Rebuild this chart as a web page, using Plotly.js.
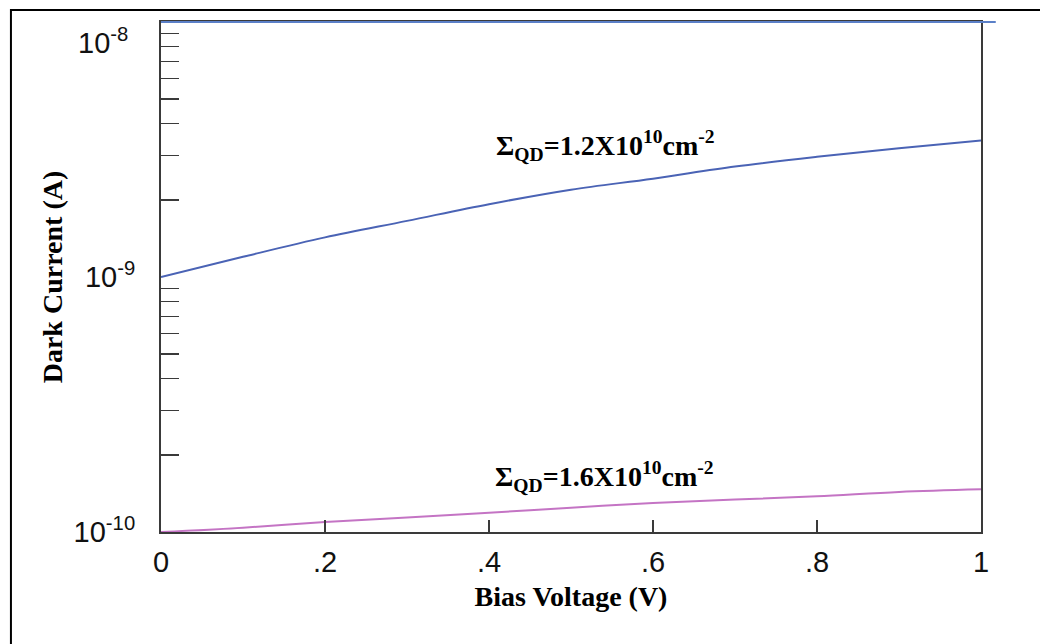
<!DOCTYPE html>
<html><head><meta charset="utf-8">
<script src="https://cdn.plot.ly/plotly-3.0.1.min.js"></script>
<style>html,body{margin:0;padding:0;background:#fff}</style>
</head><body>
<div id="chart" style="width:1040px;height:644px"></div>
<script>
const biasVoltage = [0, 0.1, 0.2, 0.3, 0.4, 0.5, 0.6, 0.7, 0.8, 0.9, 1.0];
const darkCurrentQD12 = [1.00e-9, 1.20e-9, 1.43e-9, 1.66e-9, 1.93e-9, 2.20e-9, 2.43e-9, 2.71e-9, 2.96e-9, 3.20e-9, 3.43e-9];
const darkCurrentQD16 = [1.00e-10, 1.04e-10, 1.095e-10, 1.14e-10, 1.19e-10, 1.245e-10, 1.30e-10, 1.34e-10, 1.38e-10, 1.435e-10, 1.47e-10];
const seriesLabels = ['Σ<sub>QD</sub>=1.2X10<sup>10</sup>cm<sup>-2</sup>', 'Σ<sub>QD</sub>=1.6X10<sup>10</sup>cm<sup>-2</sup>'];
const xTickVals = [0, 0.2, 0.4, 0.6, 0.8, 1];
const xTickText = ['0', '.2', '.4', '.6', '.8', '1'];
const yTickVals = [1e-10, 1e-9];
const yTickText = ['10<sup>-10</sup>', '10<sup>-9</sup>'];
const yTopLabel = '10<sup>-8</sup>';
const yMinorVals = [2e-10, 3e-10, 4e-10, 5e-10, 6e-10, 7e-10, 8e-10, 9e-10,
                    2e-9, 3e-9, 4e-9, 5e-9, 6e-9, 7e-9, 8e-9, 9e-9];

const serif = 'Liberation Serif, Times New Roman, serif';
const sans = 'Liberation Sans, Arial, sans-serif';

const traces = [
  {x: biasVoltage, y: darkCurrentQD12, mode: 'lines', line: {color: '#4a63b5', width: 2, shape: 'spline'}, hoverinfo: 'skip'},
  {x: biasVoltage, y: darkCurrentQD16, mode: 'lines', line: {color: '#c474c4', width: 2, shape: 'spline'}, hoverinfo: 'skip'}
];

const axisLine = '#3a3a3a';
const layout = {
  width: 1040, height: 644,
  margin: {l: 161, r: 59, t: 22, b: 112},
  paper_bgcolor: '#fff', plot_bgcolor: '#fff',
  showlegend: false,
  xaxis: {
    range: [0, 1], tickvals: xTickVals, ticktext: xTickText,
    ticks: 'inside', ticklen: 12, tickwidth: 1.5, tickcolor: axisLine,
    showline: true, linecolor: axisLine, linewidth: 2, mirror: true,
    showgrid: false, zeroline: false,
    tickfont: {family: sans, size: 29, color: '#111'},
    ticklabelstandoff: 3,
    title: {text: 'Bias Voltage (V)', font: {family: serif, size: 28, color: '#000', weight: 700}, standoff: 10}
  },
  yaxis: {
    type: 'log', range: [-10, -8], tickvals: yTickVals, ticktext: yTickText,
    ticks: '', ticklen: 0,
    showline: true, linecolor: axisLine, linewidth: 2, mirror: true,
    showgrid: false, zeroline: false,
    tickfont: {family: sans, size: 29, color: '#111'},
    ticklabelstandoff: 18,
    minor: {tickvals: yMinorVals, ticks: 'inside', ticklen: 18, tickwidth: 1.5, tickcolor: axisLine, showgrid: false},
    title: {text: 'Dark Current (A)', font: {family: serif, size: 28, color: '#000', weight: 700}, standoff: 3}
  },
  shapes: [
    {type: 'rect', xref: 'paper', yref: 'paper', x0: -0.183, x1: 1.08, y0: -0.25, y1: 1.0235, line: {color: '#000', width: 2}, fillcolor: 'rgba(0,0,0,0)'},
    {type: 'line', xref: 'paper', yref: 'paper', x0: 0, x1: 1.018, y0: 1, y1: 1, line: {color: '#5b80c8', width: 2}}
  ],
  annotations: [
    {text: yTopLabel, xref: 'paper', yref: 'paper', x: -0.1035, y: 0.963, xanchor: 'left', yanchor: 'middle', showarrow: false, font: {family: sans, size: 29, color: '#111'}},
    {text: seriesLabels[0], xref: 'paper', yref: 'paper', x: 0.5415, y: 0.757, xanchor: 'center', yanchor: 'middle', showarrow: false, font: {family: serif, size: 28, color: '#000', weight: 700}},
    {text: seriesLabels[1], xref: 'paper', yref: 'paper', x: 0.5405, y: 0.108, xanchor: 'center', yanchor: 'middle', showarrow: false, font: {family: serif, size: 28, color: '#000', weight: 700}}
  ]
};

Plotly.newPlot('chart', traces, layout, {displayModeBar: false, staticPlot: true});
</script>
</body></html>
